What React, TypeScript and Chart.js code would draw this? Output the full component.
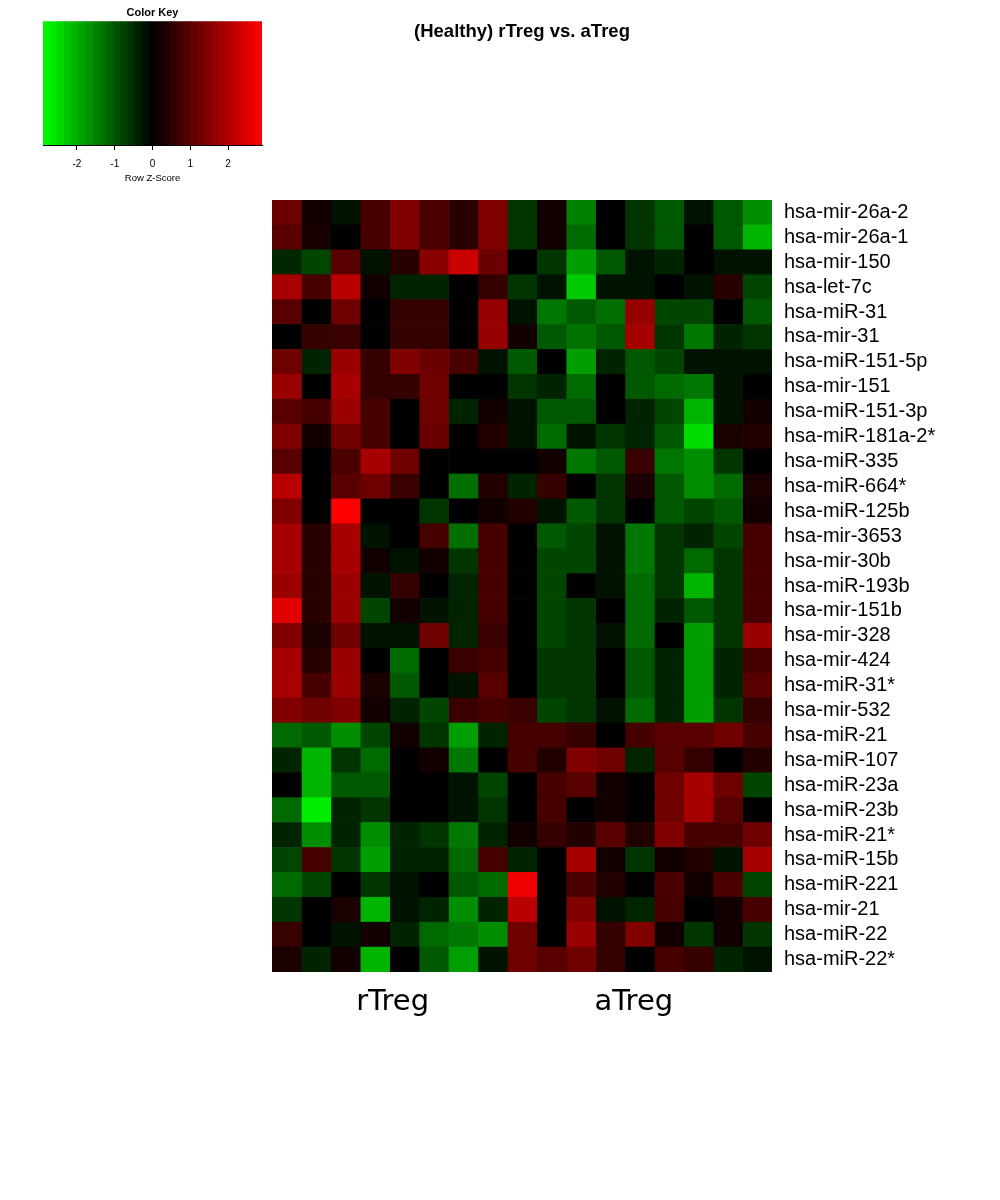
import { useEffect, useRef } from "react";
import { Chart, registerables } from "chart.js";

Chart.register(...registerables);

const title = "(Healthy) rTreg vs. aTreg";

const groupLabels = ["rTreg", "aTreg"];
const groupTickValues = [4.1, 12.3];

const rowNames = [
  "hsa-mir-26a-2", "hsa-mir-26a-1", "hsa-mir-150", "hsa-let-7c", "hsa-miR-31",
  "hsa-mir-31", "hsa-miR-151-5p", "hsa-mir-151", "hsa-miR-151-3p", "hsa-miR-181a-2*",
  "hsa-miR-335", "hsa-miR-664*", "hsa-miR-125b", "hsa-mir-3653", "hsa-mir-30b",
  "hsa-miR-193b", "hsa-mir-151b", "hsa-mir-328", "hsa-mir-424", "hsa-miR-31*",
  "hsa-mir-532", "hsa-miR-21", "hsa-miR-107", "hsa-miR-23a", "hsa-miR-23b",
  "hsa-miR-21*", "hsa-miR-15b", "hsa-miR-221", "hsa-mir-21", "hsa-miR-22",
  "hsa-miR-22*",
];

// row z-scores, one array per miRNA, 17 samples each
const zScores = [
  [1.2, 0.2, -0.2, 0.8, 1.45, 0.85, 0.45, 1.45, -0.6, 0.2, -1.45, 0, -0.6, -1.0, -0.2, -1.0, -1.6],
  [1.0, 0.25, 0, 0.8, 1.45, 0.85, 0.45, 1.45, -0.6, 0.2, -1.2, 0, -0.6, -1.0, 0, -1.0, -2.05],
  [-0.45, -0.8, 1.0, -0.2, 0.45, 1.55, 2.3, 1.2, 0, -0.6, -1.8, -1.0, -0.2, -0.4, 0, -0.2, -0.2],
  [1.9, 0.8, 2.1, 0.2, -0.4, -0.4, 0, 0.6, -0.6, -0.2, -2.3, -0.2, -0.2, 0, -0.2, 0.45, -0.8],
  [1.0, 0, 1.25, 0, 0.6, 0.6, 0, 1.7, -0.2, -1.35, -1.0, -1.25, 1.7, -0.8, -0.8, 0, -1.0],
  [0, 0.6, 0.65, 0, 0.6, 0.6, 0, 1.7, 0.2, -1.0, -1.3, -1.0, 1.9, -0.6, -1.35, -0.4, -0.6],
  [1.25, -0.4, 1.75, 0.6, 1.45, 1.2, 0.85, -0.2, -1.0, 0, -1.8, -0.4, -1.0, -0.8, -0.2, -0.2, -0.2],
  [1.75, 0, 1.9, 0.6, 0.6, 1.25, 0, 0, -0.6, -0.4, -1.2, 0, -1.0, -1.2, -1.35, -0.2, 0],
  [1.0, 0.8, 1.75, 0.8, 0, 1.25, -0.4, 0.2, -0.2, -1.0, -1.0, 0, -0.4, -0.8, -2.05, -0.2, 0.2],
  [1.45, 0.2, 1.25, 0.8, 0, 1.2, 0, 0.4, -0.2, -1.2, -0.2, -0.6, -0.4, -1.0, -2.5, 0.3, 0.4],
  [1.0, 0, 0.85, 1.9, 1.25, 0, 0, 0, 0, 0.2, -1.35, -1.0, 0.65, -1.35, -1.6, -0.6, 0],
  [2.1, 0, 1.0, 1.25, 0.65, 0, -1.25, 0.4, -0.4, 0.6, 0, -0.6, 0.3, -1.0, -1.6, -1.2, 0.3],
  [1.45, 0, 2.9, 0, 0, -0.6, 0, 0.2, 0.4, -0.2, -1.0, -0.6, 0, -1.0, -0.8, -1.0, 0.2],
  [1.9, 0.45, 1.9, -0.2, 0, 0.8, -1.25, 0.8, 0, -1.0, -0.8, -0.2, -1.35, -0.6, -0.4, -0.8, 0.8],
  [1.9, 0.45, 1.9, 0.2, -0.2, 0.2, -0.6, 0.8, 0, -0.8, -0.8, -0.2, -1.35, -0.6, -1.2, -0.6, 0.8],
  [1.75, 0.45, 1.75, -0.2, 0.6, 0, -0.4, 0.8, 0, -0.8, 0, -0.2, -1.2, -0.6, -2.05, -0.6, 0.8],
  [2.55, 0.45, 1.75, -0.8, 0.2, -0.2, -0.4, 0.8, 0, -0.8, -0.6, 0, -1.2, -0.4, -1.0, -0.6, 0.8],
  [1.45, 0.3, 1.25, -0.2, -0.2, 1.25, -0.4, 0.65, 0, -0.8, -0.6, -0.2, -1.2, 0, -1.8, -0.6, 1.75],
  [1.9, 0.45, 1.75, 0, -1.2, 0, 0.65, 0.8, 0, -0.6, -0.6, 0, -1.0, -0.4, -1.8, -0.4, 0.8],
  [1.9, 0.8, 1.75, 0.3, -1.0, 0, -0.2, 1.0, 0, -0.6, -0.6, 0, -1.0, -0.4, -1.8, -0.4, 1.0],
  [1.45, 1.25, 1.45, 0.2, -0.4, -0.8, 0.65, 0.8, 0.65, -0.8, -0.6, -0.2, -1.2, -0.4, -1.8, -0.6, 0.6],
  [-1.2, -1.0, -1.6, -0.8, 0.2, -0.6, -1.8, -0.4, 0.8, 0.8, 0.6, 0, 0.8, 1.0, 1.0, 1.25, 0.8],
  [-0.4, -2.05, -0.6, -1.2, 0, 0.2, -1.35, 0, 0.8, 0.4, 1.45, 1.25, -0.4, 1.0, 0.6, 0, 0.4],
  [0, -2.05, -1.0, -1.0, 0, 0, -0.2, -0.8, 0, 0.8, 1.0, 0.2, 0, 1.25, 1.9, 1.25, -0.8],
  [-1.2, -2.7, -0.4, -0.6, 0, 0, -0.2, -0.6, 0, 0.8, 0, 0.2, 0, 1.25, 1.9, 1.0, 0],
  [-0.4, -1.6, -0.4, -1.6, -0.4, -0.6, -1.35, -0.4, 0.2, 0.6, 0.4, 1.0, 0.4, 1.45, 0.8, 0.8, 1.25],
  [-0.8, 0.8, -0.6, -1.8, -0.4, -0.4, -1.2, 0.8, -0.4, 0, 1.9, 0.2, -0.6, 0.2, 0.4, -0.2, 1.9],
  [-1.2, -0.8, 0, -0.6, -0.2, 0, -1.0, -1.2, 2.7, 0, 0.85, 0.4, 0, 0.85, 0.2, 0.85, -0.8],
  [-0.6, 0, 0.3, -2.05, -0.2, -0.4, -1.6, -0.4, 2.1, 0, 1.45, -0.2, -0.4, 0.8, 0, 0.2, 0.8],
  [0.65, 0, -0.2, 0.2, -0.4, -1.2, -1.35, -1.6, 1.25, 0, 1.75, 0.6, 1.45, 0.2, -0.6, 0.2, -0.6],
  [0.3, -0.4, 0.2, -2.05, 0, -1.0, -1.8, -0.2, 1.25, 1.0, 1.25, 0.6, 0, 0.8, 0.6, -0.4, -0.2],
];

const keyMin = -2.9;
const keyMax = 2.9;
const keyBandCount = 31;
const keyTicks = [-2, -1, 0, 1, 2];

function zColor(z: number) {
  const v = Math.min(255, Math.round(Math.abs(z) * 88));
  return z >= 0 ? `rgb(${v},0,0)` : `rgb(0,${v},0)`;
}

function ColorKey() {
  const ref = useRef<HTMLCanvasElement | null>(null);

  useEffect(() => {
    if (!ref.current) return;
    const step = (keyMax - keyMin) / keyBandCount;
    const centers = Array.from({ length: keyBandCount }, (_, i) => keyMin + step * (i + 0.5));

    const chart = new Chart(ref.current, {
      type: "bar",
      data: {
        datasets: [
          {
            data: centers.map((c) => ({ x: c, y: 1 })),
            backgroundColor: centers.map((c) => zColor(c)),
            borderWidth: 0,
            barPercentage: 1,
            categoryPercentage: 1,
          },
        ],
      },
      options: {
        responsive: false,
        animation: false,
        layout: { padding: { left: 43, right: 38, top: 0, bottom: 6 } },
        plugins: {
          legend: { display: false },
          tooltip: { enabled: false },
          title: {
            display: true,
            text: "Color Key",
            color: "#000",
            font: { family: "'Liberation Sans', Arial, sans-serif", size: 11, weight: "bold" },
            padding: { top: 6, bottom: 2 },
          },
        },
        scales: {
          x: {
            type: "linear",
            min: keyMin,
            max: keyMax,
            offset: false,
            afterBuildTicks: (axis) => {
              axis.ticks = keyTicks.map((v) => ({ value: v }));
            },
            afterFit: (axis) => {
              axis.height = 39;
            },
            grid: {
              display: true,
              offset: false,
              drawOnChartArea: false,
              drawTicks: true,
              tickLength: 5,
              color: "#000",
            },
            border: { display: true, color: "#000", width: 1 },
            ticks: {
              color: "#000",
              padding: 8,
              maxRotation: 0,
              autoSkip: false,
              font: { family: "'Liberation Sans', Arial, sans-serif", size: 10 },
              callback: (v) => String(v),
            },
            title: {
              display: true,
              text: "Row Z-Score",
              color: "#000",
              padding: { top: 2, bottom: 0 },
              font: { family: "'Liberation Sans', Arial, sans-serif", size: 9.5 },
            },
          },
          y: { display: false, min: 0, max: 1 },
        },
      },
    });

    return () => chart.destroy();
  }, []);

  return (
    <canvas
      ref={ref}
      width={300}
      height={190}
      style={{ position: "absolute", left: 0, top: 0, width: 300, height: 190 }}
    />
  );
}

function Heatmap() {
  const ref = useRef<HTMLCanvasElement | null>(null);

  useEffect(() => {
    if (!ref.current) return;
    const colCount = zScores[0].length;

    const datasets = Array.from({ length: colCount }, (_, c) => ({
      data: rowNames.map(() => [c, c + 1] as [number, number]),
      backgroundColor: zScores.map((row) => zColor(row[c])),
      borderWidth: 0,
      barPercentage: 1,
      categoryPercentage: 1,
      grouped: false,
    }));

    const chart = new Chart(ref.current, {
      type: "bar",
      data: { labels: rowNames, datasets },
      options: {
        indexAxis: "y",
        responsive: false,
        animation: false,
        layout: { padding: 0 },
        plugins: {
          legend: { display: false },
          tooltip: { enabled: false },
        },
        scales: {
          x: {
            type: "linear",
            min: 0,
            max: colCount,
            afterBuildTicks: (axis) => {
              axis.ticks = groupTickValues.map((v) => ({ value: v }));
            },
            afterFit: (axis) => {
              axis.height = 68;
            },
            grid: { display: false, drawTicks: false },
            border: { display: false },
            ticks: {
              color: "#000",
              padding: 13,
              maxRotation: 0,
              autoSkip: false,
              font: { family: "'DejaVu Sans', sans-serif", size: 29 },
              callback: (_v, i) => groupLabels[i],
            },
          },
          y: {
            position: "right",
            afterFit: (axis) => {
              axis.width = 228;
            },
            grid: { display: false, drawTicks: false },
            border: { display: false },
            ticks: {
              color: "#000",
              padding: 12,
              autoSkip: false,
              font: { family: "'Liberation Sans', Arial, sans-serif", size: 20 },
            },
          },
        },
      },
    });

    return () => chart.destroy();
  }, []);

  return (
    <canvas
      ref={ref}
      width={728}
      height={864}
      style={{ position: "absolute", left: 272, top: 176, width: 728, height: 864 }}
    />
  );
}

export default function App() {
  return (
    <div style={{ position: "absolute", left: 0, top: 0, width: 1000, height: 1200, background: "#fff" }}>
      <ColorKey />
      <div
        style={{
          position: "absolute",
          left: 272,
          top: 20,
          width: 500,
          textAlign: "center",
          fontFamily: "'Liberation Sans', Arial, sans-serif",
          fontWeight: "bold",
          fontSize: 18.5,
          lineHeight: "22px",
          color: "#000",
        }}
      >
        {title}
      </div>
      <Heatmap />
    </div>
  );
}
